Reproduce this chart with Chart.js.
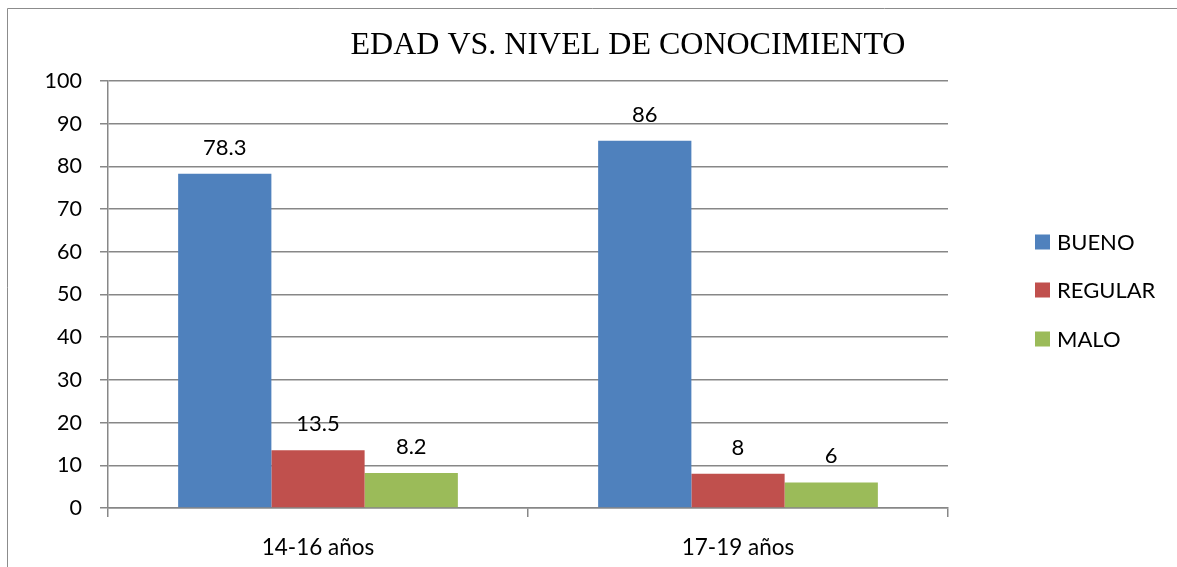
<!DOCTYPE html>
<html>
<head>
<meta charset="utf-8">
<script src="https://cdn.jsdelivr.net/npm/chart.js@4.4.1/dist/chart.umd.min.js"></script>
<style>
html,body{margin:0;padding:0;background:#fff;}
#wrap{width:1177px;height:567px;position:relative;}
</style>
</head>
<body>
<div id="wrap"><canvas id="c" width="1177" height="567"></canvas></div>
<script>
const categories = ["14-16 años", "17-19 años"];
const bueno = [78.3, 86];
const regular = [13.5, 8];
const malo = [8.2, 6];
const seriesNames = ["BUENO", "REGULAR", "MALO"];
const yTicks = [0, 10, 20, 30, 40, 50, 60, 70, 80, 90, 100];
const titleText = "EDAD VS. NIVEL DE CONOCIMIENTO";

const colors = ["#4F81BD", "#C0504D", "#9BBB59"];
const gridColor = "#878787";
const sansFont = "Lato, 'Open Sans', sans-serif";

const extras = {
  id: 'extras',
  beforeDraw(chart) {
    const ctx = chart.ctx;
    ctx.save();
    ctx.fillStyle = '#fff';
    ctx.fillRect(0, 0, chart.width, chart.height);
    ctx.strokeStyle = '#8c8c8c';
    ctx.lineWidth = 1;
    ctx.beginPath();
    ctx.moveTo(7.5, chart.height);
    ctx.lineTo(7.5, 8.5);
    ctx.lineTo(chart.width, 8.5);
    ctx.stroke();
    ctx.restore();
  },
  afterDraw(chart) {
    const ctx = chart.ctx;
    ctx.save();
    // title
    ctx.fillStyle = '#000';
    ctx.font = "32px 'Liberation Serif', serif";
    ctx.textAlign = 'center';
    ctx.textBaseline = 'middle';
    ctx.fillText(titleText, 628, 46);
    // data labels
    ctx.font = "22px " + sansFont;
    chart.data.datasets.forEach((ds, i) => {
      const meta = chart.getDatasetMeta(i);
      meta.data.forEach((bar, j) => {
        ctx.fillText(String(ds.data[j]), bar.x, bar.y - 26);
      });
    });
    // legend
    ctx.textAlign = 'left';
    ctx.font = "22px " + sansFont;
    const ys = [242, 290, 339];
    chart.data.datasets.forEach((ds, i) => {
      ctx.fillStyle = ds.backgroundColor;
      ctx.fillRect(1035, ys[i] - 7.5, 15, 15);
      ctx.fillStyle = '#000';
      ctx.fillText(ds.label, 1057, ys[i] + 1);
    });
    ctx.restore();
  }
};

new Chart(document.getElementById('c'), {
  type: 'bar',
  data: {
    labels: categories,
    datasets: [
      { label: seriesNames[0], data: bueno, backgroundColor: colors[0] },
      { label: seriesNames[1], data: regular, backgroundColor: colors[1] },
      { label: seriesNames[2], data: malo, backgroundColor: colors[2] }
    ]
  },
  options: {
    responsive: false,
    animation: false,
    events: [],
    layout: { padding: { left: 0, top: 81, right: 229, bottom: 0 } },
    datasets: { bar: { categoryPercentage: 0.666, barPercentage: 1.0, borderWidth: 0 } },
    plugins: { legend: { display: false }, title: { display: false }, tooltip: { enabled: false } },
    scales: {
      x: {
        offset: true,
        grid: { display: true, drawOnChartArea: false, drawTicks: true, tickLength: 9, color: gridColor, lineWidth: 1.5, offset: true },
        border: { display: true, color: gridColor, width: 1.5 },
        ticks: { color: '#000', font: { family: sansFont, size: 22.5 }, padding: 17 },
        afterFit(s) { s.height = 59; }
      },
      y: {
        min: 0, max: 100,
        afterBuildTicks(s) { s.ticks = yTicks.map(v => ({ value: v })); },
        grid: { color: gridColor, lineWidth: 1.5, tickLength: 8, drawTicks: true },
        border: { display: true, color: gridColor, width: 1.5 },
        ticks: { color: '#000', font: { family: sansFont, size: 21.5 }, padding: 18 },
        afterFit(s) { s.width = 108; }
      }
    }
  },
  plugins: [extras]
});
</script>
</body>
</html>
